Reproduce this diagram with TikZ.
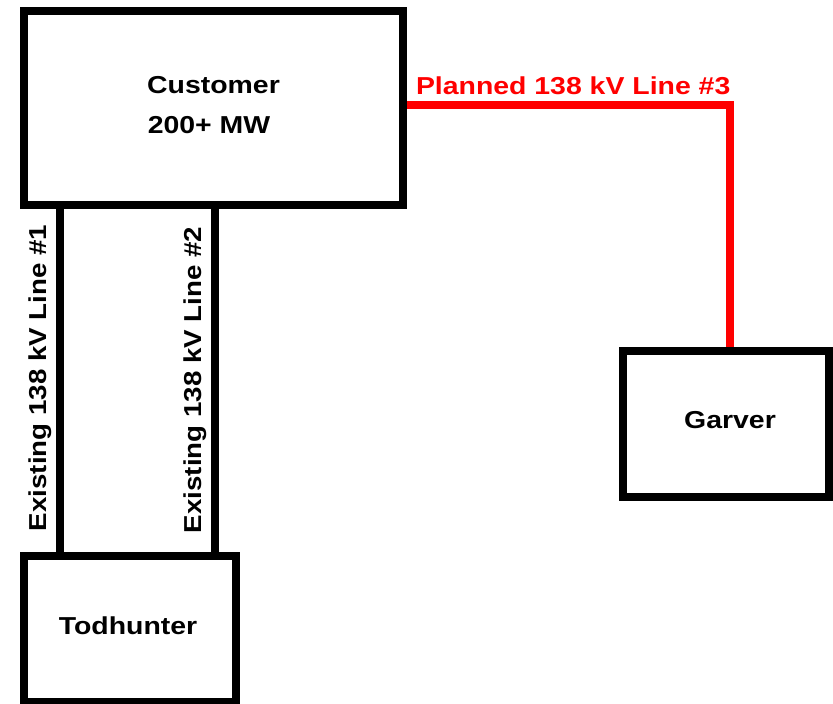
\documentclass[tikz,border=0pt]{standalone}
\usepackage{graphicx}
\usepackage{fontspec}
\setmainfont{Liberation Sans}
\begin{document}
\begin{tikzpicture}[x=1pt,y=-1pt,
  stationbox/.style={draw=black,line width=8pt,fill=white,inner sep=0pt,outer sep=0pt,rectangle},
  lbl/.style={font=\fontsize{24.5}{28}\selectfont\bfseries,inner sep=0pt,outer sep=0pt},
  existline/.style={draw=black,line width=8pt},
  plannedline/.style={draw=red,line width=8pt,line join=miter},
  st/.code={}]
\useasboundingbox[fill=white] (0,0) rectangle (833,704);
% boxes
\node[stationbox,minimum width=379pt,minimum height=194.5pt] (cust) at (213.5,107.75) {};
\node[stationbox,minimum width=206pt,minimum height=146pt] (gar) at (726,424) {};
\node[stationbox,minimum width=212pt,minimum height=146pt] (tod) at (130,629) {};
% connectors
\draw[existline] ([xshift=36pt]cust.south west) -- ([xshift=36pt]tod.north west);
\draw[existline] ([xshift=191pt]cust.south west) -- ([xshift=191pt]tod.north west);
\draw[plannedline] ([yshift=3pt]cust.east) -| ([xshift=3.5pt]gar.north);
% redraw box borders on top
\draw[black,line width=8pt] (cust.south west) rectangle (cust.north east);
\draw[black,line width=8pt] (gar.south west) rectangle (gar.north east);
\draw[black,line width=8pt] (tod.south west) rectangle (tod.north east);
% texts
\node[lbl,anchor=base] (custname) at (213.5,93) {\scalebox{1.16}[1]{Customer}};
\node[lbl,anchor=base] (custmw) at (209,133) {\scalebox{1.16}[1]{200+ MW}};
\node[lbl,anchor=base] (garname) at (730,428) {\scalebox{1.16}[1]{Garver}};
\node[lbl,anchor=base] (todname) at (128,634) {\scalebox{1.16}[1]{Todhunter}};
\node[lbl,anchor=base west,text=red] (l3) at (416,94.3) {\scalebox{1.16}[1]{Planned 138 kV Line \#3}};
\node[lbl,anchor=base,rotate=90] (l1) at (46,378) {\scalebox{1.13}[1]{Existing 138 kV Line \#1}};
\node[lbl,anchor=base,rotate=90] (l2) at (201,380) {\scalebox{1.13}[1]{Existing 138 kV Line \#2}};
\end{tikzpicture}
\end{document}
